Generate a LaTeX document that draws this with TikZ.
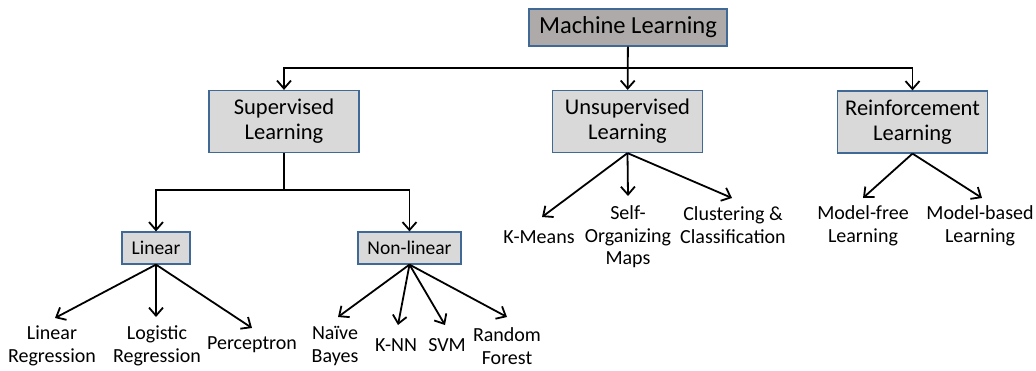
\documentclass[tikz,border=0pt]{standalone}
\usepackage{fontspec}
\setmainfont{Carlito}
\usetikzlibrary{arrows.meta}
\definecolor{rootfill}{RGB}{174,170,169}
\definecolor{boxfill}{RGB}{217,217,217}
\definecolor{boxline}{RGB}{65,105,150}
\tikzset{
  rootbox/.style={draw=boxline, line width=1.2pt, fill=rootfill, minimum width=198pt, minimum height=37pt, inner sep=0pt,
    font=\fontsize{24.5}{27}\selectfont},
  catbox/.style={draw=boxline, line width=1.2pt, fill=boxfill, minimum width=150pt, minimum height=62pt, inner sep=0pt,
    align=center, font=\fontsize{22.5}{25}\selectfont},
  subbox/.style={draw=boxline, line width=1.2pt, fill=boxfill, minimum height=32pt, inner sep=0pt,
    font=\fontsize{19.5}{22}\selectfont},
  leaf/.style={align=center, inner sep=0pt, font=\fontsize{20}{22.5}\selectfont},
  link/.style={line width=1.8pt, black},
  arr/.style={link, -{Straight Barb[length=8pt,width=14pt,line width=1.8pt]}}
}
\begin{document}
\begin{tikzpicture}[x=1pt,y=-1pt]
\useasboundingbox (0,0) rectangle (1036,370);

% main categories
\node[rootbox] (ml) at (628,27.5) {Machine Learning};
\node[catbox] (sup) at (284,121.5) {Supervised\\Learning};
\node[catbox] (uns) at (627.5,121.5) {Unsupervised\\Learning};
\node[catbox] (rl) at (912.5,122) {Reinforcement\\Learning};

% supervised subcategories
\node[subbox, minimum width=68pt] (lin) at (156,248) {Linear};
\node[subbox, minimum width=103pt] (nonlin) at (409.5,248) {Non-linear};

% leaf methods
\node[leaf] (lr) at (52,346) {Linear\\Regression};
\node[leaf] (logr) at (157,346) {Logistic\\Regression};
\node[leaf] (perc) at (252,345) {Perceptron};
\node[leaf] (nb) at (335,346) {Naïve\\Bayes};
\node[leaf] (knn) at (396,345) {K-NN};
\node[leaf] (svm) at (447,345) {SVM};
\node[leaf] (rf) at (507,346) {Random\\Forest};
\node[leaf] (km) at (539,237) {K-Means};
\node[leaf] (som) at (628,237) {Self-\\Organizing\\Maps};
\node[leaf] (clu) at (733,225) {Clustering \&\\Classification};
\node[leaf] (mf) at (863,226) {Model-free\\Learning};
\node[leaf] (mb) at (980,226) {Model-based\\Learning};

% junctions and arrow ends
\coordinate (j1) at (628,68);
\coordinate (j2) at (284,190);
\coordinate (lr-t) at (55,318);
\coordinate (logr-t) at (156,317);
\coordinate (perc-t) at (252,328);
\coordinate (nb-t) at (338,317);
\coordinate (knn-t) at (398,325);
\coordinate (svm-t) at (445,325);
\coordinate (rf-t) at (507,317);
\coordinate (km-t) at (542,217);
\coordinate (som-t) at (628,196);
\coordinate (clu-t) at (732,198);
\coordinate (mf-t) at (863,198);
\coordinate (mb-t) at (982,198);

% top level connectors
\draw[arr] (ml) -- (uns);
\draw[arr] (j1) -| (sup);
\draw[arr] (j1) -| (rl);

% supervised branch
\draw[link] (sup) -- (j2);
\draw[arr] (j2) -| (lin);
\draw[arr] (j2) -| (nonlin);

\foreach \t in {lr,logr,perc} \draw[arr] (lin.south) -- (\t-t);
\foreach \t in {nb,knn,svm,rf} \draw[arr] (nonlin.south) -- (\t-t);
\foreach \t in {km,som,clu} \draw[arr] (uns.south) -- (\t-t);
\foreach \t in {mf,mb} \draw[arr] (rl.south) -- (\t-t);
\end{tikzpicture}
\end{document}
